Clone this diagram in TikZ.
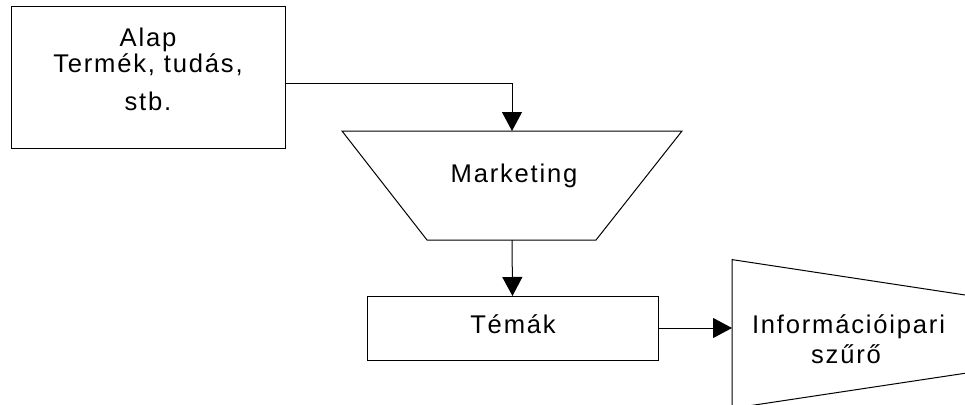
\documentclass[tikz,border=0pt]{standalone}
\usepackage{fontspec}
\setmainfont{Liberation Sans}[LetterSpace=7]
\usetikzlibrary{arrows.meta}
\begin{document}
\begin{tikzpicture}[x=1pt,y=-1pt,
  every node/.style={inner sep=0pt, outer sep=0pt},
  lbl/.style={font=\fontsize{25.6}{30}\selectfont, anchor=base},
  boxst/.style={draw, line width=1pt, rectangle},
  conn/.style={line width=1pt, -{Triangle[length=19pt,width=20pt]}},
  shp/.style={line width=1pt, line join=miter}]
\useasboundingbox (0,0) rectangle (965,404);
\begin{scope}
\clip (0,0) rectangle (965,404);
% Alap box
\node[boxst, minimum width=274pt, minimum height=141pt] (alap) at (148,77.5) {};
\node[lbl] (t1) at (148,46) {Alap};
\node[lbl] (t2) at (148,72) {Termék, tudás,};
\node[lbl] (t3) at (148,110) {stb.};
% Marketing trapezoid
\draw[shp] (342,131) -- (682,131) -- (596,240) -- (427,240) -- cycle;
\coordinate (mtop) at (512,131);
\coordinate (mbot) at (512,240);
\node[lbl] (mk) at (514,182) {Marketing};
% Temak box
\node[boxst, minimum width=291pt, minimum height=64pt] (temak) at (512.5,328) {};
\node[lbl] (tt) at (513,333) {Témák};
% filter
\draw[shp] (1000,300.3) -- (732,259.6) -- (732,408.4) -- (1000,368);
\coordinate (fin) at (732,328);
\node[lbl] (f1) at (848.5,333) {Információipari};
\node[lbl] (f2) at (846,363) {szűrő};
% connectors
\draw[conn] ([yshift=-5.5pt]alap.east) -| (mtop);
\draw[conn] (mbot) -- (temak.north);
\draw[conn] (temak.east) -- (fin);
\end{scope}
\end{tikzpicture}
\end{document}
